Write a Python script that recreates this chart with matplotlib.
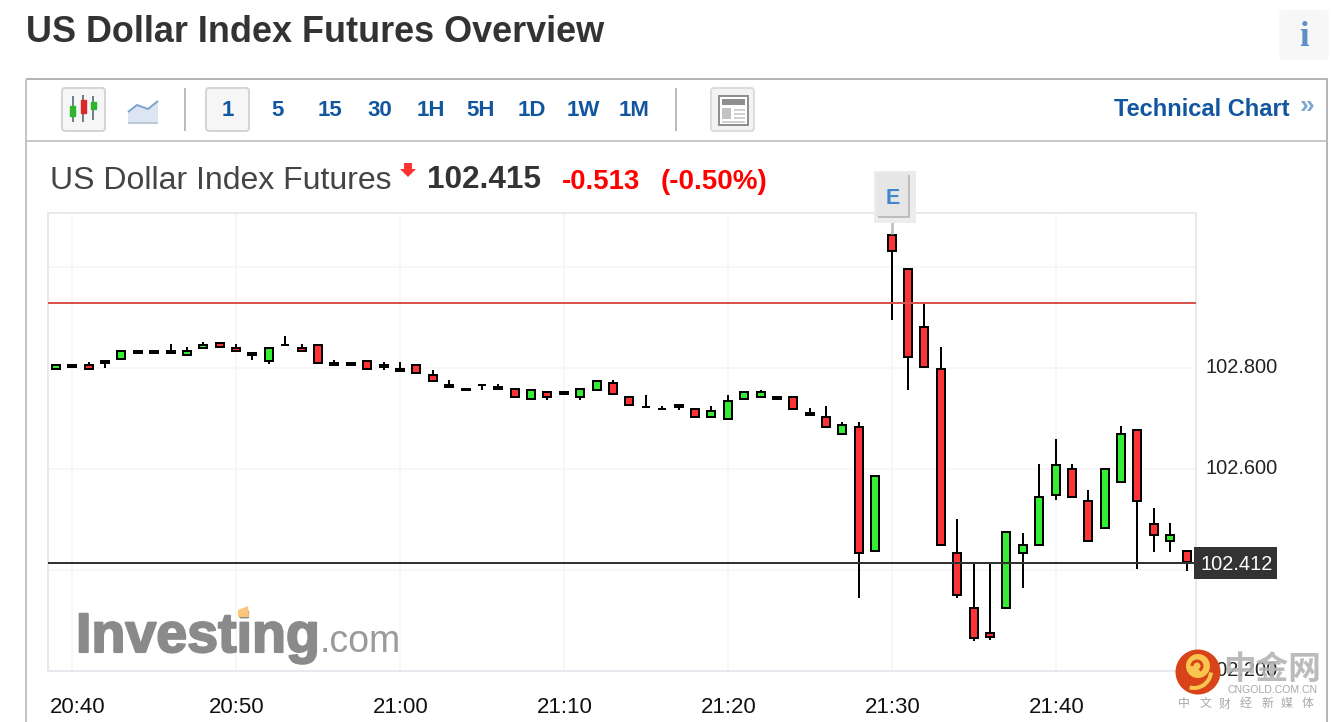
import numpy as np
import matplotlib
matplotlib.use("Agg")
import matplotlib.pyplot as plt
import matplotlib.patheffects as pe
from matplotlib.patches import Rectangle, FancyBboxPatch, Polygon, Circle, Arc
from matplotlib.transforms import ScaledTranslation

SANS = ['Liberation Sans', 'DejaVu Sans']
CJK = ['Noto Sans CJK SC', 'DejaVu Sans']
plt.rcParams['font.family'] = SANS

# ---- data -------------------------------------------------------------
first_minute = -1      # minutes relative to 20:40
opens = [102.798,102.802,102.806,102.814,102.818,102.830,102.830,102.830,102.826,102.838,
         102.849,102.838,102.830,102.814,102.845,102.838,102.845,102.810,102.810,102.814,
         102.806,102.798,102.806,102.786,102.766,102.758,102.766,102.762,102.758,102.739,
         102.751,102.751,102.743,102.755,102.770,102.743,102.723,102.719,102.727,102.719,
         102.703,102.699,102.739,102.743,102.743,102.743,102.711,102.703,102.668,102.683,
         102.438,103.063,102.996,102.881,102.798,102.434,102.324,102.276,102.324,102.434,
         102.450,102.549,102.600,102.537,102.482,102.573,102.676,102.490,102.458,102.438]
highs = [102.806,102.806,102.812,102.814,102.834,102.834,102.834,102.847,102.840,102.851,
         102.849,102.847,102.830,102.838,102.863,102.847,102.845,102.816,102.810,102.814,
         102.812,102.812,102.806,102.796,102.776,102.758,102.766,102.768,102.758,102.755,
         102.751,102.751,102.758,102.774,102.776,102.743,102.745,102.725,102.727,102.719,
         102.725,102.745,102.751,102.756,102.743,102.743,102.721,102.725,102.693,102.693,
         102.585,103.063,102.996,102.926,102.840,102.500,102.415,102.415,102.474,102.472,
         102.610,102.658,102.610,102.559,102.600,102.685,102.676,102.523,102.492,102.438]
lows = [102.798,102.802,102.798,102.800,102.818,102.830,102.830,102.830,102.826,102.838,
        102.841,102.834,102.816,102.808,102.845,102.834,102.810,102.806,102.806,102.798,
        102.796,102.794,102.790,102.774,102.762,102.755,102.756,102.758,102.743,102.739,
        102.737,102.747,102.737,102.755,102.747,102.727,102.723,102.719,102.717,102.703,
        102.703,102.699,102.739,102.743,102.739,102.719,102.707,102.683,102.668,102.345,
        102.438,102.895,102.756,102.802,102.450,102.345,102.259,102.262,102.324,102.365,
        102.450,102.539,102.545,102.458,102.482,102.573,102.401,102.436,102.436,102.397]
closes = [102.806,102.806,102.798,102.810,102.834,102.834,102.834,102.834,102.834,102.845,
          102.841,102.834,102.826,102.838,102.845,102.834,102.810,102.806,102.806,102.798,
          102.802,102.794,102.790,102.774,102.762,102.755,102.766,102.758,102.743,102.755,
          102.743,102.747,102.758,102.774,102.747,102.727,102.723,102.719,102.723,102.703,
          102.715,102.735,102.751,102.751,102.739,102.719,102.707,102.683,102.687,102.434,
          102.585,103.031,102.822,102.802,102.450,102.351,102.265,102.268,102.474,102.450,
          102.545,102.608,102.545,102.458,102.600,102.668,102.537,102.470,102.470,102.415]
prev_close = 102.928
last_price = 102.414
tag_price = "102.412"
x_tick_minutes = [0, 10, 20, 30, 40, 50, 60]
x_tick_labels = ["20:40", "20:50", "21:00", "21:10", "21:20", "21:30", "21:40"]
y_grid = [102.2, 102.4, 102.6, 102.8, 103.0]
y_labels = ["102.200", "", "102.600", "102.800", ""]
intervals = ["1", "5", "15", "30", "1H", "5H", "1D", "1W", "1M"]
event_minute = 50

# ---- colours ----------------------------------------------------------
UP, DOWN = '#33ee33', '#ff3333'
BLUE = '#1256a0'
GRID, BORDER = '#f7f7f9', '#e6e9ee'
W, H = 1332, 722

fig = plt.figure(figsize=(W / 100, H / 100), dpi=100, facecolor='white')
px = 72 / 100   # points per pixel

# ---- main chart -------------------------------------------------------
ax = fig.add_axes([48 / W, 1 - 671 / H, 1148 / W, 458 / H])
ax.set_xlim(-1.477, 68.57)
ax.set_ylim(102.201, 103.106)
for s in ax.spines.values():
    s.set_color(BORDER)
    s.set_linewidth(2 * px)
ax.set_xticks(x_tick_minutes, x_tick_labels, fontsize=16, color='#111111')
ax.set_yticks(y_grid, y_labels, fontsize=14.4, color='#222222')
ax.yaxis.tick_right()
ax.tick_params(axis='both', length=0)
ax.tick_params(axis='x', pad=19)
ax.tick_params(axis='y', pad=7)
ax.grid(True, color=GRID, linewidth=2 * px)
ax.set_axisbelow(True)
for i, t in enumerate(ax.get_xticklabels()):
    shift = 5 if i == 0 else 1
    t.set_transform(t.get_transform() + ScaledTranslation(shift / 100, 0, fig.dpi_scale_trans))
for t in ax.get_yticklabels():
    t.set_transform(t.get_transform() + ScaledTranslation(0, 2 / 100, fig.dpi_scale_trans))

minutes = np.arange(first_minute, first_minute + len(opens))
o, h, l, c = map(np.array, (opens, highs, lows, closes))
ax.vlines(minutes, l, h, color='black', linewidth=2 * px, zorder=3)
ax.bar(minutes, c - o, bottom=o, width=0.488,
       color=[UP if a >= b else DOWN for a, b in zip(c, o)],
       edgecolor='black', linewidth=2 * px, zorder=4)
ax.axhline(prev_close, color='#d9534f', linewidth=2 * px, zorder=5)
ax.axhline(last_price, color='#333333', linewidth=2 * px, zorder=5)

# ---- page chrome in pixel coordinates --------------------------------
ov = fig.add_axes([0, 0, 1, 1], facecolor='none')
ov.set_xlim(0, W)
ov.set_ylim(H, 0)
ov.axis('off')

def rbox(x0, y0, x1, y1, fc, ec, r=3, lw=2, z=2):
    ov.add_patch(FancyBboxPatch((x0 + r, y0 + r), x1 - x0 - 2 * r, y1 - y0 - 2 * r,
                                boxstyle=f"round,pad={r}", fc=fc, ec=ec, lw=lw * px, zorder=z))

def line(xs, ys, color, lw=2, z=2):
    ov.plot(xs, ys, color=color, lw=lw * px, solid_capstyle='butt', zorder=z)

ov.text(26, 33, "US Dollar Index Futures Overview", fontsize=25.9, fontweight='bold',
        color='#333333', va='center')
rbox(1279, 10, 1329, 60, '#f7f7f7', 'none', r=4, lw=0)
ov.text(1304, 37, "i", fontsize=25, fontweight='bold', family=['Liberation Serif', 'DejaVu Serif'],
        color='#5c90c6', ha='center', va='center')

# panel
line([26, 1327, 1327], [79, 79, 722], '#b4b4b4', 2)
line([26, 26], [79, 722], '#c4c4c4', 2)
line([26, 1327], [141, 141], '#c8c8c8', 2)
line([185, 185], [88, 131], '#bdbdbd', 2)
line([676, 676], [88, 131], '#bdbdbd', 2)

# candlestick icon
rbox(62, 88, 105, 131, '#f6f6f6', '#d5d5d5')
for xc, yt, yb, by0, by1, col in [(72.5, 96, 122, 106, 116, '#2db52d'),
                                  (83, 95, 122, 100, 113, '#d92b2b'),
                                  (93, 96, 120, 102, 109, '#2db52d')]:
    line([xc, xc], [yt, yb], '#6f7f8c', 2, 3)
    ov.add_patch(Rectangle((xc - 2.5, by0), 5, by1 - by0, fc=col, ec=col, lw=1, zorder=4))
# area icon
ov.add_patch(Polygon([(128, 112), (137, 105), (148, 109), (158, 101), (158, 124), (128, 124)],
                     fc='#dce6f3', ec='none', zorder=2))
line([128, 137, 148, 158], [112, 105, 109, 101], '#7fa5d0', 2, 3)
line([128, 158], [123, 123], '#bcc9d8', 2, 3)
# interval buttons
rbox(206, 88, 249, 131, '#f6f6f6', '#d5d5d5')
for label, xc in zip(intervals, [228, 278, 330, 380, 431, 481, 532, 583, 634]):
    ov.text(xc, 111, label, fontsize=16, fontweight='bold', color=BLUE, ha='center', va='center')
# news icon
rbox(711, 88, 754, 131, '#f3f3f3', '#dcdcdc')
ov.add_patch(Rectangle((719, 96), 29, 29, fc='white', ec='#8f8f8f', lw=2 * px, zorder=3))
ov.add_patch(Rectangle((722, 99), 23, 6, fc='#8f8f8f', ec='none', zorder=4))
ov.add_patch(Rectangle((722, 108), 9, 11, fc='#c2c2c2', ec='none', zorder=4))
for yy in (110, 114, 118, 122):
    line([734 if yy < 120 else 722, 745], [yy, yy], '#c2c2c2', 1.5, 4)
ov.text(1114, 110, "Technical Chart", fontsize=17, fontweight='bold', color=BLUE, va='center')
ov.text(1300, 106, "»", fontsize=19, fontweight='bold', color='#7da6cf', va='center')

# quote line
ov.text(50, 181, "US Dollar Index Futures", fontsize=23, color='#444444', va='center')
ov.add_patch(Polygon([(400, 169), (404, 169), (404, 163), (412, 163), (412, 169), (416, 169), (408, 177)],
                     fc='#ff3333', ec='none', zorder=3))
ov.text(427, 180, "102.415", fontsize=22.7, fontweight='bold', color='#333333', va='center')
ov.text(562, 182, "-0.513", fontsize=19.8, fontweight='bold', color='#ff0000', va='center')
ov.text(661, 182, "(-0.50%)", fontsize=20, fontweight='bold', color='#ff0000', va='center')

# event marker (placed over its candle with the chart's own x scale)
ex, _ = ov.transData.inverted().transform(ax.transData.transform((event_minute, 103.0)))
line([ex, ex], [220, 234], '#c4c4c4', 3, 6)
ov.add_patch(Rectangle((ex - 18, 171), 42, 52, fc='#ececec', ec='none', zorder=6))
ov.add_patch(Rectangle((ex - 16, 173), 34, 44, fc='#e6e6e6', ec='none', zorder=6))
line([ex + 17, ex + 17, ex - 14], [175, 217, 217], '#bdbdbd', 2, 7)
ov.text(ex + 1, 199, "E", fontsize=15.5, fontweight='bold', color='#3f88d0',
        ha='center', va='center', zorder=8)

# price tag
ov.add_patch(Rectangle((1194, 547), 83, 32, fc='#333333', ec='none', zorder=6))
ov.text(1237, 565, tag_price, fontsize=14.4, color='white', ha='center', va='center', zorder=7)

# Investing.com watermark
ov.text(76, 652, "Investing", fontsize=40, fontweight='bold', color='#8a8a8a', va='baseline', zorder=6,
        path_effects=[pe.withStroke(linewidth=1.5, foreground='#8a8a8a')])
ov.text(320, 652, ".com", fontsize=27, color='#9a9a9a', va='baseline', zorder=6)
ov.add_patch(Polygon([(238, 610), (248, 606), (249, 617), (238, 617)], fc='#fbc67a', ec='none', zorder=7))

# cngold watermark
ov.add_patch(Circle((1198, 672), 22.5, fc='#d8431a', ec='none', zorder=8))
ov.add_patch(Circle((1198, 666), 12, fc='#f8c64e', ec='none', zorder=9))
ov.add_patch(Arc((1197, 666), 10, 10, theta1=180, theta2=60, color='#d8431a', lw=3 * px, zorder=10))
ov.add_patch(Arc((1194, 671), 34, 34, theta1=5, theta2=105, color='#f8c64e', lw=4 * px, zorder=9))
ov.text(1272, 669, "中金网", fontsize=23.5, fontweight='bold', family=CJK, color='#b4b4b4',
        alpha=0.9, ha='center', va='center', zorder=8)
ov.text(1273, 690, "CNGOLD.COM.CN", fontsize=7.6, color='#a8a8a8', ha='center', va='center', zorder=8)
for ch, xc in zip("中文财经新媒体", [1184, 1205, 1225, 1246, 1267, 1287, 1308]):
    ov.text(xc, 704, ch, fontsize=8.6, family=CJK, color='#a8a8a8', ha='center', va='center', zorder=8)

fig.savefig("out.png", dpi=100, facecolor='white')
